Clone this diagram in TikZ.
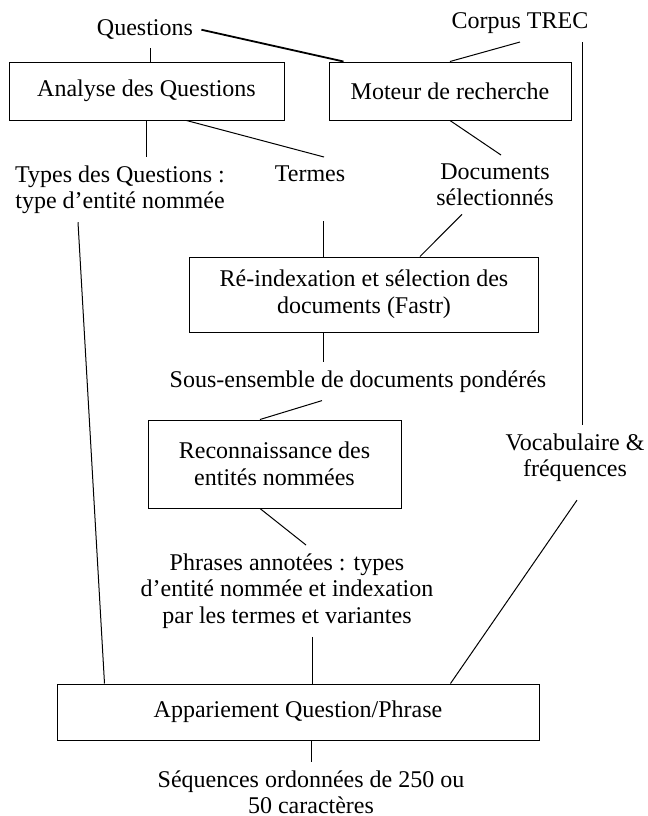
\documentclass[tikz,border=0pt]{standalone}
\usepackage{fontspec}
\setmainfont{Liberation Serif}
\begin{document}
\begin{tikzpicture}[x=0.5pt, y=-0.5pt, every node/.style={font=\fontsize{12}{13.3}\selectfont}]
      \tikzset{boite/.style={draw, line width=0.5pt, align=center, inner sep=0pt}}
      \tikzset{etiq/.style={align=center, inner sep=4pt, anchor=north}}
      \tikzset{lien/.style={line width=0.5pt}}
      \useasboundingbox (0,0) rectangle (648,816);
%% Boites
      \node[boite, minimum width=137.5pt, minimum height=29pt] (analyse) at (146.5,91) {Analyse des Questions};
      \node[boite, minimum width=121pt, minimum height=29pt] (moteur) at (450,91) {Moteur de recherche};
      \node[boite, minimum width=174.5pt, minimum height=37.5pt] (reindex) at (364,294.5) {Ré-indexation et sélection des\\documents (Fastr)};
      \node[boite, minimum width=126.5pt, minimum height=44pt] (reconn) at (274.5,464) {Reconnaissance des\\entités nommées};
      \node[boite, minimum width=241pt, minimum height=28pt] (appar) at (298,712) {Appariement Question/Phrase};
%% Etiquettes
	%entrees
      \node[etiq, anchor=south] (questions) at (145,48) {Questions};
      \node[etiq, anchor=south] (corpus) at (520,42) {Corpus TREC};
	%resultats intermediaires
      \node[etiq] (types) at (120,157) {Types des Questions :\\type d’entité nommée};
      \node[etiq, text depth=15.9pt] (termes) at (310,157) {Termes};
      \node[etiq] (documents) at (495,155) {Documents\\sélectionnés};
      \node[etiq] (sous) at (358,362) {Sous-ensemble de documents pondérés};
      \node[etiq] (vocab) at (575,425) {Vocabulaire \&\\fréquences};
      \node[etiq] (phrases) at (287,545) {Phrases annotées : types\\d’entité nommée et indexation\\par les termes et variantes};
	%sortie
      \node[etiq] (sequences) at (311,762) {Séquences ordonnées de 250 ou\\50 caractères};
%% Liens
      \path [lien] ([xshift=2.5pt]questions.south) edge ([xshift=2.5pt]questions.south |- analyse.north);
      \path [lien, line width=0.9pt] (questions.east) edge ([xshift=7.5pt]moteur.north west);
      \path [lien] (corpus.south) edge (moteur.north);
      \path [lien] ([xshift=31pt]corpus.south) edge ([xshift=31pt]corpus.south |- vocab.north);
      \path [lien] (analyse.south) edge (analyse.south |- types.north);
      \path [lien] ([xshift=20pt]analyse.south) edge ([xshift=7pt]termes.north);
      \path [lien] (moteur.south) edge ([xshift=3pt]documents.north);
      \path [lien] ([xshift=-21pt]types.south) edge ([xshift=24pt]appar.north west);
      \path [lien] ([xshift=-20.5pt]reindex.north |- termes.south) edge ([xshift=-20.5pt]reindex.north);
      \path [lien] ([xshift=-16.5pt]documents.south) edge ([xshift=28pt]reindex.north);
      \path [lien] ([xshift=-20.5pt]reindex.south) edge ([xshift=-20.5pt]reindex.south |- sous.north);
      \path [lien] ([xshift=-18pt]sous.south) edge ([xshift=-7.25pt]reconn.north);
      \path [lien] ([xshift=-7.25pt]reconn.south) edge ([xshift=9.5pt]phrases.north);
      \path [lien] ([xshift=1pt, yshift=-5pt]vocab.south) edge ([xshift=-44.5pt]appar.north east);
      \path [lien] ([xshift=12.5pt]phrases.south) edge ([xshift=12.5pt]phrases.south |- appar.north);
      \path [lien] (appar.south -| sequences.north) edge (sequences.north);
\end{tikzpicture}
\end{document}
